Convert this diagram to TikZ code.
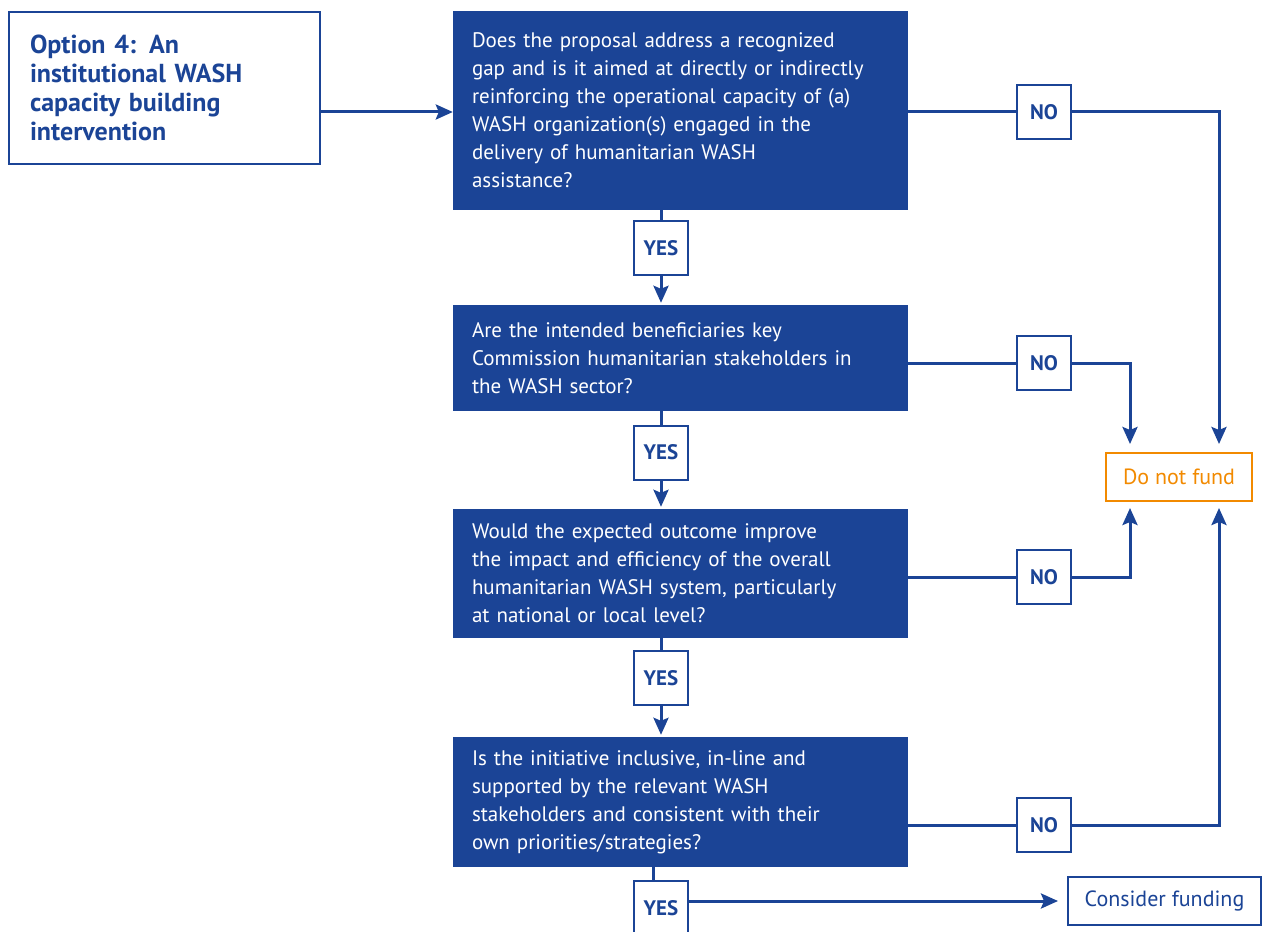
\documentclass[tikz,border=0pt]{standalone}
\usepackage{fontspec}
\setmainfont{PT Sans}
\usetikzlibrary{arrows.meta,calc}
\definecolor{eublue}{HTML}{1B4496}
\definecolor{euorange}{HTML}{F28A00}

\begin{document}
\begin{tikzpicture}[x=1pt,y=-1pt,
  conn/.style={draw=eublue,line width=3pt},
  arr/.style={conn,-{Stealth[length=17pt,width=15pt,inset=3pt]}},
  qbox/.style={rectangle,fill=eublue,text=white,minimum width=455pt,
    text width=417pt,align=left,inner sep=0pt,
    font=\fontsize{21}{28}\selectfont},
  tag/.style={rectangle,draw=eublue,line width=2pt,fill=white,text=eublue,
    minimum size=54pt,inner sep=0pt,font=\bfseries\fontsize{21}{21}\selectfont},
  outcome/.style={rectangle,line width=2pt,fill=white,inner sep=0pt,
    minimum width=193pt,minimum height=48pt,font=\fontsize{22}{24}\selectfont}
]
\useasboundingbox (0,0) rectangle (1268,931);

% start box
\node[rectangle,draw=eublue,line width=2pt,minimum width=311pt,minimum height=152pt,
  text width=269pt,align=left,inner sep=0pt,text=eublue,
  font=\bfseries\fontsize{26}{29}\selectfont] (opt) at (164.5,88)
  {Option 4: An\\institutional WASH\\capacity building\\intervention};

% question boxes
\node[qbox,minimum height=199pt] (q1) at (680.5,110.5)
  {Does the proposal address a recognized\\
   gap and is it aimed at directly or indirectly\\
   reinforcing the operational capacity of (a)\\
   WASH organization(s) engaged in the\\
   delivery of humanitarian WASH\\
   assistance?};
\node[qbox,minimum height=106pt] (q2) at (680.5,358)
  {Are the intended beneficiaries key\\
   Commission humanitarian stakeholders in\\
   the WASH sector?};
\node[qbox,minimum height=129pt] (q3) at (680.5,573.5)
  {Would the expected outcome improve\\
   the impact and efficiency of the overall\\
   humanitarian WASH system, particularly\\
   at national or local level?};
\node[qbox,minimum height=130pt] (q4) at (680.5,802)
  {Is the initiative inclusive, in-line and\\
   supported by the relevant WASH\\
   stakeholders and consistent with their\\
   own priorities/strategies?};

% answer tags
\node[tag] (yes1) at (661,248) {YES};
\node[tag] (yes2) at (661,452.5) {YES};
\node[tag] (yes3) at (661,678) {YES};
\node[tag] (yes4) at (661,908) {YES};
\node[tag] (no1) at (1044,112) {NO};
\node[tag] (no2) at (1044,363) {NO};
\node[tag] (no3) at (1044,577) {NO};
\node[tag] (no4) at (1044,825) {NO};

% outcomes
\node[outcome,draw=euorange,text=euorange,minimum width=146pt] (dnf) at (1179,477) {Do not fund};
\node[outcome,draw=eublue,text=eublue] (cf) at (1164.5,901) {Consider funding};

% connectors
\draw[arr] ([yshift=-24pt]opt.east) -- ([yshift=-24pt]opt.east -| q1.west);

\draw[conn] (q1.south -| yes1) -- (yes1.north);
\draw[arr,shorten >=2pt] (yes1.south) -- (yes1.south |- q2.north);
\draw[conn] (q2.south -| yes2) -- (yes2.north);
\draw[arr,shorten >=2pt] (yes2.south) -- (yes2.south |- q3.north);
\draw[conn] (q3.south -| yes3) -- (yes3.north);
\draw[arr,shorten >=2pt] (yes3.south) -- (yes3.south |- q4.north);
\draw[conn] ([xshift=-8pt]yes4.north |- q4.south) -- ([xshift=-8pt]yes4.north);
\draw[arr,shorten >=9pt] (yes4.east |- cf) -- (cf.west);

\draw[conn] (q1.east |- no1) -- (no1.west);
\draw[arr,shorten >=8pt] (no1.east) -| ([xshift=-34pt]dnf.north east);
\draw[conn] (q2.east |- no2) -- (no2.west);
\draw[arr,shorten >=8pt] (no2.east) -| ([xshift=25pt]dnf.north west);
\draw[conn] (q3.east |- no3) -- (no3.west);
\draw[arr,shorten >=6pt] (no3.east) -| ([xshift=25pt]dnf.south west);
\draw[conn] (q4.east |- no4) -- (no4.west);
\draw[arr,shorten >=6pt] (no4.east) -| ([xshift=-34pt]dnf.south east);
\end{tikzpicture}
\end{document}
